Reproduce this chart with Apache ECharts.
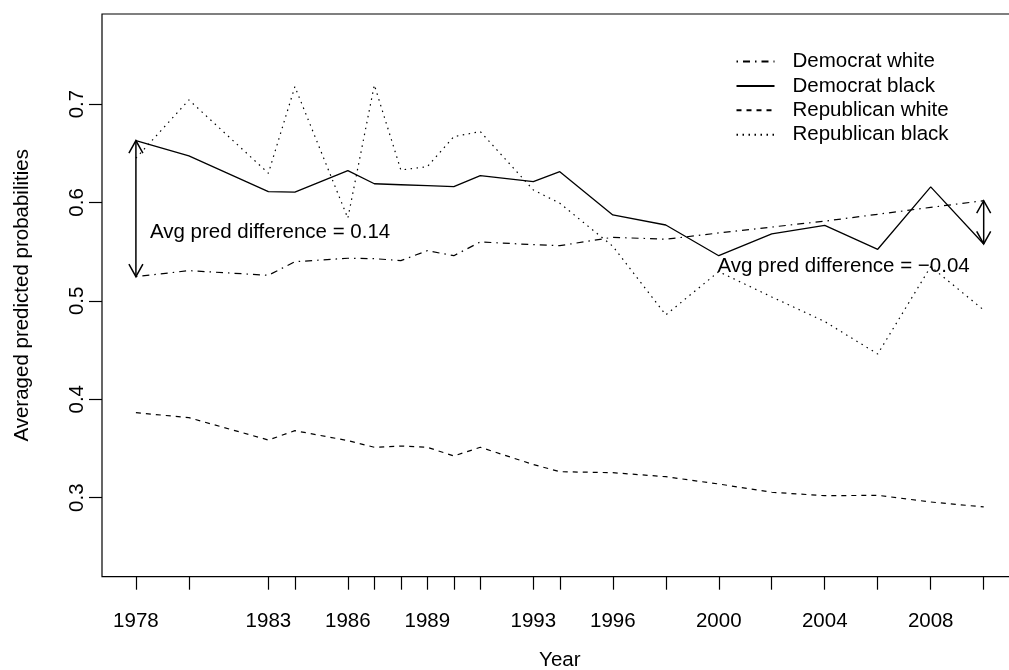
<!DOCTYPE html>
<html>
<head>
<meta charset="utf-8">
<script src="https://cdn.jsdelivr.net/npm/echarts@6/dist/echarts.min.js"></script>
<style>
html,body{margin:0;padding:0;background:#fff;}
#chart{width:1009px;height:670px;}
</style>
</head>
<body>
<div id="chart"></div>
<script>
// ---- data ----
const years = [1978,1980,1983,1984,1986,1987,1988,1989,1990,1991,1993,1994,1996,1998,2000,2002,2004,2006,2008,2010];
const yearLabels = [1978,1983,1986,1989,1993,1996,2000,2004,2008];
const yTicks = [0.3,0.4,0.5,0.6,0.7];
const seriesNames = ["Democrat white","Democrat black","Republican white","Republican black"];
const demWhite = [0.5246,0.5307,0.5260,0.5398,0.5433,0.5429,0.5409,0.5510,0.5459,0.5599,0.5571,0.5561,0.5646,0.5626,0.5690,0.5750,0.5810,0.5880,0.5950,0.6018];
const demBlack = [0.6628,0.6473,0.6110,0.6104,0.6323,0.6190,0.6180,0.6170,0.6160,0.6272,0.6211,0.6313,0.5873,0.5771,0.5459,0.5680,0.5768,0.5524,0.6158,0.5578];
const repWhite = [0.3864,0.3813,0.3586,0.3681,0.3580,0.3512,0.3525,0.3512,0.3424,0.3512,0.3337,0.3264,0.3254,0.3213,0.3139,0.3055,0.3020,0.3024,0.2956,0.2906];
const repBlack = [0.6450,0.7042,0.6297,0.7177,0.5840,0.7194,0.6330,0.6364,0.6669,0.6720,0.6127,0.5992,0.5555,0.4857,0.5297,0.5040,0.4790,0.4460,0.5348,0.4907];
const diffLabels = ["Avg pred difference = 0.14","Avg pred difference = \u22120.04"];

// ---- chart ----
const FONT = "'Liberation Sans', Arial, Helvetica, sans-serif";
const FS = 20.5;
const pairs = arr => years.map((y, i) => [y, arr[i]]);
const last = years.length - 1;
const arrowData = [
  [years[0], demBlack[0], demWhite[0]],
  [years[last], demBlack[last], demWhite[last]]
];
const annotationPlacement = [
  {y: 0.570, dx: 14, align: 'left'},
  {y: 0.5355, dx: -14, align: 'right'}
];

function lineSeries(name, arr, type, width) {
  return {
    name: name, type: 'line', data: pairs(arr),
    symbol: 'none', showSymbol: false, animation: false, silent: true,
    lineStyle: {color: '#000', width: width, type: type},
    itemStyle: {color: '#000'}
  };
}

const chart = echarts.init(document.getElementById('chart'), null, {renderer: 'canvas'});
chart.setOption({
  backgroundColor: '#fff',
  animation: false,
  grid: {left: 102, top: 14, width: 915.6, height: 562.7, show: true, borderColor: '#000', borderWidth: 1.2, backgroundColor: 'transparent', outerBoundsMode: 'none', containLabel: false},
  xAxis: {
    type: 'value', min: 1976.72, max: 2011.28,
    axisLine: {show: false},
    splitLine: {show: false},
    axisTick: {show: true, customValues: years, length: 13, lineStyle: {color: '#000', width: 1.2}},
    axisLabel: {customValues: yearLabels, fontSize: FS, color: '#000', fontFamily: FONT, margin: 34, formatter: v => String(v)},
    name: 'Year', nameLocation: 'middle', nameGap: 73,
    nameTextStyle: {fontSize: FS, color: '#000', fontFamily: FONT}
  },
  yAxis: {
    type: 'value', min: 0.2197, max: 0.7915,
    axisLine: {show: false},
    splitLine: {show: false},
    axisTick: {show: true, customValues: yTicks, length: 13, lineStyle: {color: '#000', width: 1.2}},
    axisLabel: {customValues: yTicks, rotate: 90, fontSize: FS, color: '#000', fontFamily: FONT, margin: 14, formatter: v => v.toFixed(1)},
    name: 'Averaged predicted probabilities', nameLocation: 'middle', nameGap: 69,
    nameTextStyle: {fontSize: FS, color: '#000', fontFamily: FONT}
  },
  legend: {
    data: seriesNames,
    orient: 'vertical', left: 730.5, top: 46,
    itemWidth: 38, itemHeight: 14, itemGap: 3.4,
    textStyle: {fontSize: FS, color: '#000', fontFamily: FONT, padding: [0, 0, 0, 13]},
    itemStyle: {opacity: 0},
    selectedMode: false
  },
  series: [
    lineSeries(seriesNames[0], demWhite, [1.5, 5, 7, 5], 1.2),
    lineSeries(seriesNames[1], demBlack, 'solid', 1.3),
    lineSeries(seriesNames[2], repWhite, [5, 5], 1.2),
    lineSeries(seriesNames[3], repBlack, [1.5, 4.5], 1.2),
    {
      type: 'custom', name: 'arrows', data: arrowData, clip: false, silent: true,
      encode: {x: 0, y: 1},
      renderItem: function (params, api) {
        const x = api.value(0);
        const p1 = api.coord([x, api.value(1)]);
        const p2 = api.coord([x, api.value(2)]);
        const top = Math.min(p1[1], p2[1]);
        const bot = Math.max(p1[1], p2[1]);
        const hx = 7, hy = 12.5;
        const st = {stroke: '#000', lineWidth: 1.5, fill: null};
        const ann = annotationPlacement[params.dataIndex];
        const lp = api.coord([x, ann.y]);
        return {
          type: 'group',
          children: [
            {type: 'line', shape: {x1: p1[0], y1: top, x2: p1[0], y2: bot}, style: st},
            {type: 'polyline', shape: {points: [[p1[0] - hx, top + hy], [p1[0], top], [p1[0] + hx, top + hy]]}, style: st},
            {type: 'polyline', shape: {points: [[p1[0] - hx, bot - hy], [p1[0], bot], [p1[0] + hx, bot - hy]]}, style: st},
            {type: 'text', style: {text: diffLabels[params.dataIndex], x: p1[0] + ann.dx, y: lp[1], align: ann.align, verticalAlign: 'middle', fontSize: FS, fontFamily: FONT, fill: '#000'}}
          ]
        };
      }
    }
  ]
});
</script>
</body>
</html>
